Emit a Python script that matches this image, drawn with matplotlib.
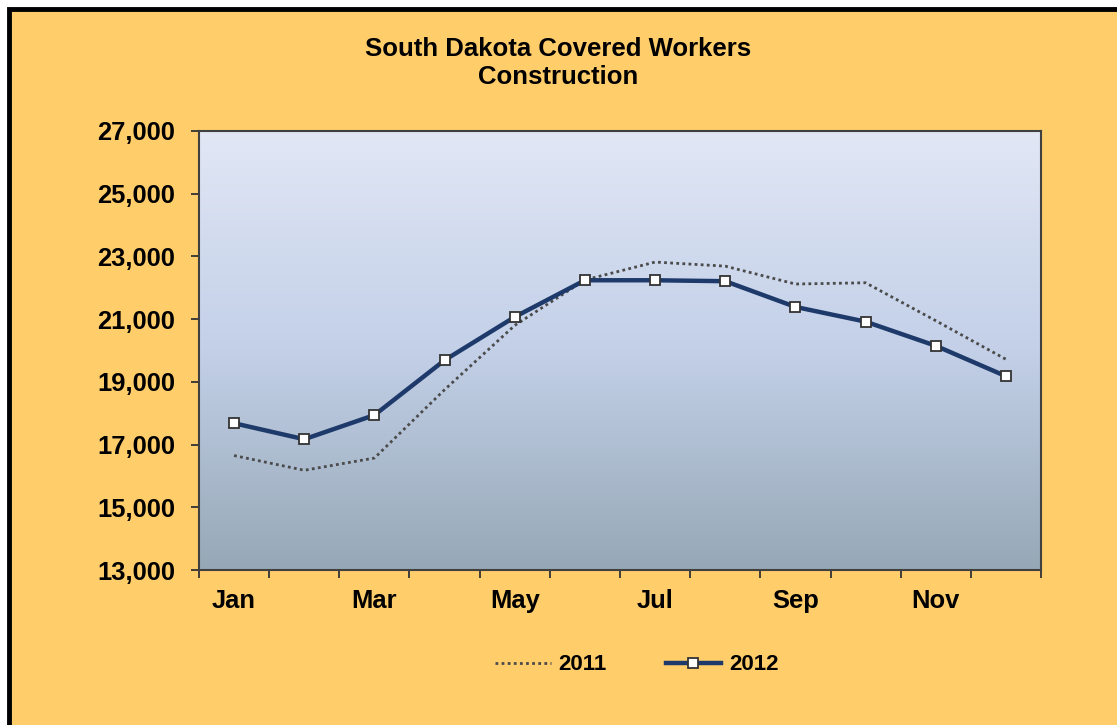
import numpy as np
import matplotlib
matplotlib.use("Agg")
from matplotlib import pyplot as plt
from matplotlib.colors import LinearSegmentedColormap
from matplotlib.patches import Rectangle
from matplotlib.ticker import FuncFormatter

months = ["Jan", "Feb", "Mar", "Apr", "May", "Jun",
          "Jul", "Aug", "Sep", "Oct", "Nov", "Dec"]
shown_labels = ["Jan", "", "Mar", "", "May", "", "Jul", "", "Sep", "", "Nov", ""]
y_ticks = [13000, 15000, 17000, 19000, 21000, 23000, 25000, 27000]
workers_2011 = [16650, 16180, 16570, 18750, 20800, 22250,
                22820, 22690, 22120, 22160, 20950, 19720]
workers_2012 = [17680, 17170, 17940, 19690, 21070, 22240,
                22240, 22210, 21390, 20920, 20150, 19180]

plt.rcParams["font.family"] = ["Liberation Sans", "DejaVu Sans"]
plt.rcParams["font.weight"] = "bold"

fig = plt.figure(figsize=(11.17, 7.25), dpi=100)
fig.patch.set_facecolor("white")
# orange panel with thick black edge on top/left (right/bottom run off the image)
fig.patches.append(Rectangle((9 / 1117, -0.05), 1.1, 1.05 - 9 / 725,
                             transform=fig.transFigure, facecolor="#FFCD6A",
                             edgecolor="black", linewidth=3.5, zorder=-10))

ax = fig.add_axes([199 / 1117, 1 - 570 / 725, 842 / 1117, 439 / 725])
x = np.arange(len(months))
ax.set_xlim(-0.5, len(months) - 0.5)
ax.set_ylim(y_ticks[0], y_ticks[-1])

# gradient plot area
grad = LinearSegmentedColormap.from_list("bg", ["#96A8B6", "#C3D0E8", "#E1E7F5"])
ax.imshow(np.linspace(0, 1, 256).reshape(-1, 1), cmap=grad, aspect="auto",
          extent=(-0.5, len(months) - 0.5, y_ticks[0], y_ticks[-1]),
          origin="lower", zorder=0)

ax.plot(x, workers_2011, color="#4A4A4A", linestyle=(0, (1, 1.2)), linewidth=2,
        label="2011", zorder=2)
ax.plot(x, workers_2012, color="#1E3A6B", linewidth=3.2, marker="s",
        markersize=7, markerfacecolor="white", markeredgecolor="#333333",
        markeredgewidth=1.3, label="2012", zorder=3)

ax.set_yticks(y_ticks)
ax.yaxis.set_major_formatter(FuncFormatter(lambda v, p: f"{int(v):,}"))
ax.set_xticks(x)
ax.set_xticklabels(shown_labels)
ax.set_xticks(np.arange(-0.5, len(months)), minor=True)
ax.tick_params(axis="x", which="major", length=0, labelsize=18.4, pad=14)
ax.tick_params(axis="x", which="minor", length=6, width=1.3, color="#333333",
               direction="out")
ax.tick_params(axis="y", length=6, width=1.3, color="#333333", labelsize=18.4, pad=11)

for s in ax.spines.values():
    s.set_color("#404040")
    s.set_linewidth(1.5)

fig.text(0.5, 1 - 63 / 725, "South Dakota Covered Workers\nConstruction",
         ha="center", va="center", fontsize=18.5, fontweight="bold", linespacing=1.25)

fig.legend(loc="center", bbox_to_anchor=(0.57, 1 - 665 / 725), ncol=2,
           frameon=False, fontsize=16, handlelength=2.5, columnspacing=2.65,
           handletextpad=0.35)

fig.savefig("out.png", dpi=100, facecolor=fig.get_facecolor())
